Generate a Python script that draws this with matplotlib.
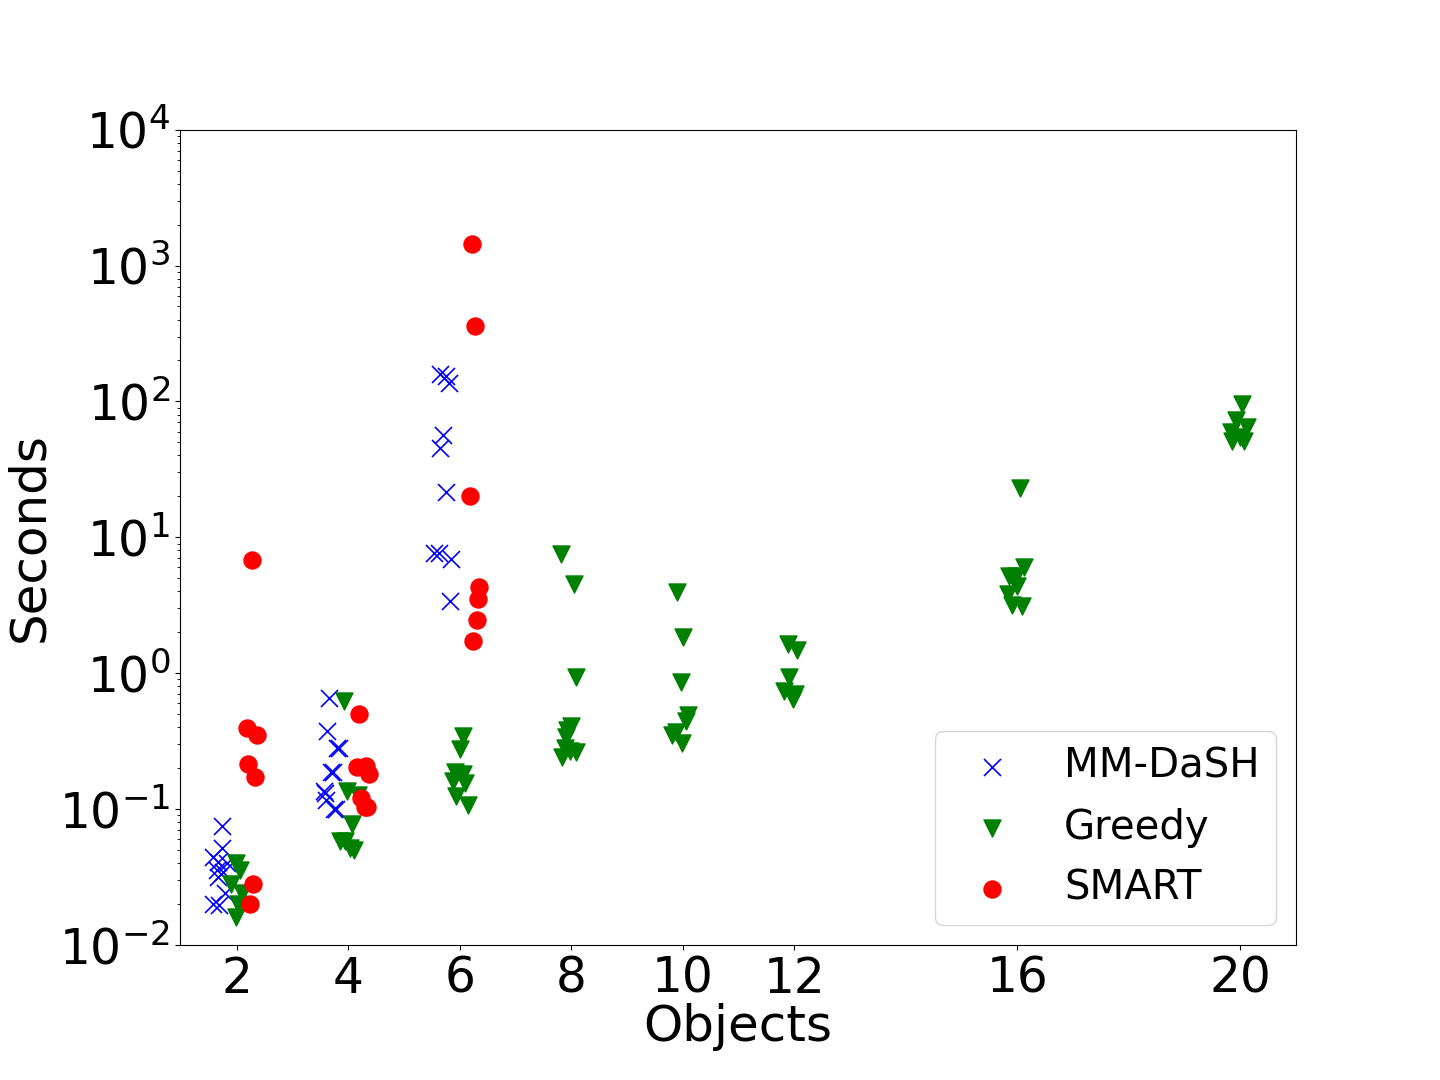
import matplotlib
matplotlib.use('Agg')
import matplotlib.pyplot as plt

# MM-DaSH 运行时间 (x 带抖动)
mmdash_x = [1.73, 1.73, 1.57, 1.66, 1.82, 1.64, 1.75, 1.66, 1.78, 1.57, 1.68,
            3.65, 3.61, 3.79, 3.84, 3.68, 3.72, 3.56, 3.58, 3.60, 3.74, 3.78,
            5.64, 5.76, 5.80, 5.69, 5.64, 5.76, 5.53, 5.62, 5.85, 5.82]
mmdash_y = [0.075, 0.0514, 0.0442, 0.0406, 0.0399, 0.0354, 0.0343, 0.0315, 0.024, 0.0199, 0.0196,
            0.655, 0.374, 0.28, 0.28, 0.187, 0.187, 0.137, 0.131, 0.116, 0.101, 0.101,
            158, 154, 137, 56.6, 45.4, 21.5, 7.65, 7.65, 6.9, 3.39]

# Greedy
greedy_x = [1.99, 2.05, 1.90, 2.10, 2.02, 1.99,
            3.92, 3.97, 4.17, 4.06, 3.85, 3.94, 4.03, 4.11,
            6.05, 6.01, 5.91, 6.05, 5.87, 6.09, 5.94, 6.14,
            7.82, 8.04, 8.09, 7.99, 7.93, 7.91, 7.88, 7.84, 8.09, 7.97,
            9.89, 10.01, 9.96, 10.10, 10.06, 9.87, 9.81, 9.99,
            11.88, 12.04, 11.90, 11.82, 12.02, 11.98,
            16.04, 16.12, 15.85, 15.97, 16.00, 15.84, 15.91, 16.09,
            20.03, 19.92, 20.12, 19.83, 20.00, 19.85, 20.07]
greedy_y = [0.0402, 0.0359, 0.0279, 0.0242, 0.0202, 0.016,
            0.622, 0.135, 0.126, 0.0773, 0.058, 0.058, 0.0514, 0.0497,
            0.344, 0.276, 0.187, 0.180, 0.160, 0.155, 0.124, 0.107,
            7.52, 4.52, 0.935, 0.407, 0.38, 0.338, 0.28, 0.241, 0.262, 0.266,
            3.95, 1.84, 0.859, 0.491, 0.443, 0.368, 0.349, 0.305,
            1.64, 1.49, 0.93, 0.74, 0.70, 0.65,
            23.0, 6.06, 5.18, 5.18, 4.38, 3.82, 3.17, 3.11,
            95.7, 73.0, 64.8, 59.5, 54.7, 51.1, 51.1]

# SMART
smart_x = [2.18, 2.36, 2.20, 2.32, 2.29, 2.23, 2.27,
           4.19, 4.15, 4.31, 4.37, 4.22, 4.29, 4.33,
           6.21, 6.27, 6.18, 6.35, 6.32, 6.30, 6.23]
smart_y = [0.394, 0.349, 0.214, 0.171, 0.0279, 0.0199, 6.79,
           0.499, 0.203, 0.208, 0.18, 0.120, 0.103, 0.104,
           1442, 359, 20.1, 4.30, 3.51, 2.45, 1.72]

x_ticks = [2, 4, 6, 8, 10, 12, 16, 20]

fig, ax = plt.subplots(figsize=(14.4, 10.8), dpi=100)
fig.subplots_adjust(left=0.125, right=0.9, bottom=0.125, top=0.88)

# 散点
ax.scatter(mmdash_x, mmdash_y, marker='x', color='blue', s=150, linewidths=1.2, label='MM-DaSH')
ax.scatter(greedy_x, greedy_y, marker='v', color='green', s=150, label='Greedy')
ax.scatter(smart_x, smart_y, marker='o', color='red', s=150, label='SMART')

ax.set_yscale('log')
ax.set_ylim(1e-2, 1e4)
ax.set_xlim(0.98, 21.0)
ax.set_xticks(x_ticks)
ax.set_xticklabels([str(t) for t in x_ticks])
ax.tick_params(axis='both', which='major', labelsize=35)

ax.set_xlabel('Objects', fontsize=36, labelpad=0)
ax.set_ylabel('Seconds', fontsize=36)

ax.legend(loc='lower right', fontsize=29, labelspacing=0.52)

plt.savefig('out.png', dpi=100)
